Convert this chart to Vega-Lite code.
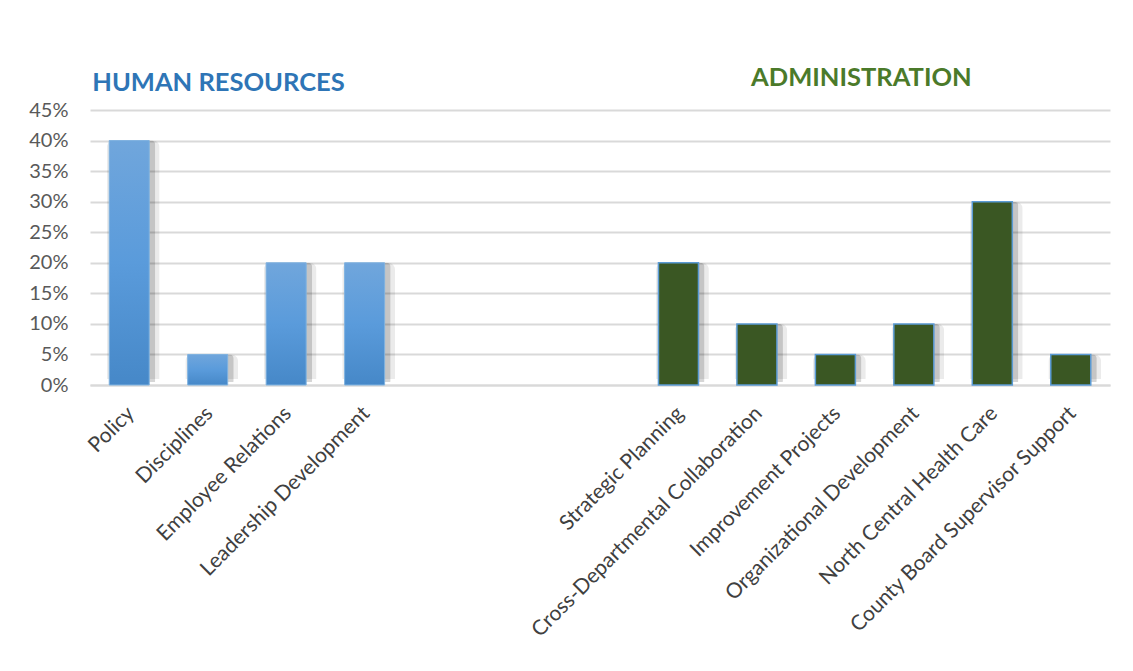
{
  "$schema": "https://vega.github.io/schema/vega-lite/v6.json",
  "width": 1020,
  "height": 275,
  "autosize": "none",
  "padding": {"left": 90, "right": 23, "top": 110, "bottom": 286},
  "background": "white",
  "config": {
    "view": {"stroke": null},
    "font": "Lato"
  },
  "datasets": {
    "bars": [
      {"cat": "Policy", "value": 0.40, "group": "HR"},
      {"cat": "Disciplines", "value": 0.05, "group": "HR"},
      {"cat": "Employee Relations", "value": 0.20, "group": "HR"},
      {"cat": "Leadership Development", "value": 0.20, "group": "HR"},
      {"cat": "Strategic Planning", "value": 0.20, "group": "ADMIN"},
      {"cat": "Cross-Departmental Collaboration", "value": 0.10, "group": "ADMIN"},
      {"cat": "Improvement Projects", "value": 0.05, "group": "ADMIN"},
      {"cat": "Organizational Development", "value": 0.10, "group": "ADMIN"},
      {"cat": "North Central Health Care", "value": 0.30, "group": "ADMIN"},
      {"cat": "County Board Supervisor Support", "value": 0.05, "group": "ADMIN"}
    ],
    "titles": [
      {"label": "HUMAN RESOURCES", "cat": "Policy", "value": 0.494, "group": "HR"},
      {"label": "ADMINISTRATION", "cat": "Improvement Projects", "value": 0.502, "group": "ADMIN"}
    ]
  },
  "encoding": {
    "x": {
      "field": "cat",
      "type": "nominal",
      "sort": null,
      "scale": {
        "domain": ["Policy", "Disciplines", "Employee Relations", "Leadership Development", " ", "  ", "   ", "Strategic Planning", "Cross-Departmental Collaboration", "Improvement Projects", "Organizational Development", "North Central Health Care", "County Board Supervisor Support"],
        "paddingInner": 0.49,
        "paddingOuter": 0.245
      },
      "axis": {
        "title": null,
        "labelAngle": -45,
        "labelAlign": "right",
        "labelBaseline": "middle",
        "labelFontSize": 21,
        "labelFont": "Lato",
        "labelColor": "#404040",
        "labelPadding": 25,
        "labelOffset": 2,
        "ticks": false,
        "domain": true,
        "domainColor": "#d9d9d9",
        "domainWidth": 2,
        "grid": false,
        "labelOverlap": false,
        "labelLimit": 500
      }
    },
    "y": {
      "field": "value",
      "type": "quantitative",
      "scale": {"domain": [0, 0.45], "nice": false, "zero": true},
      "axis": {
        "title": null,
        "format": ".0%",
        "values": [0, 0.05, 0.1, 0.15, 0.2, 0.25, 0.3, 0.35, 0.4, 0.45],
        "labelFontSize": 20,
        "labelFont": "Lato",
        "labelColor": "#595959",
        "labelPadding": 22,
        "labelOverlap": false,
        "labelFlush": false,
        "labelBound": false,
        "ticks": false,
        "domain": false,
        "grid": true,
        "gridColor": "#d9d9d9",
        "gridWidth": 2
      }
    }
  },
  "layer": [
    {
      "data": {"name": "bars"},
      "mark": {"type": "bar", "color": "#000000", "opacity": 0.08, "width": {"band": 1.32}, "xOffset": 4, "yOffset": -6, "cornerRadius": 7}
    },
    {
      "data": {"name": "bars"},
      "mark": {"type": "bar", "color": "#000000", "opacity": 0.16, "width": {"band": 1.15}, "xOffset": 3, "yOffset": -3, "cornerRadius": 4}
    },
    {
      "data": {"name": "bars"},
      "transform": [{"filter": "datum.group === 'HR'"}],
      "mark": {
        "type": "bar",
        "stroke": "#7FB2E0",
        "strokeWidth": 1,
        "color": {
          "gradient": "linear",
          "x1": 0, "y1": 0, "x2": 0, "y2": 1,
          "stops": [
            {"offset": 0, "color": "#70A6DC"},
            {"offset": 0.5, "color": "#5A9BDB"},
            {"offset": 1, "color": "#4688C8"}
          ]
        }
      }
    },
    {
      "data": {"name": "bars"},
      "transform": [{"filter": "datum.group === 'ADMIN'"}],
      "mark": {"type": "bar", "color": "#3A5723", "stroke": "#5B9BD5", "strokeWidth": 1.5}
    },
    {
      "data": {"name": "titles"},
      "transform": [{"filter": "datum.group === 'HR'"}],
      "mark": {"type": "text", "align": "left", "baseline": "middle", "dx": -37, "fontSize": 25.5, "fontWeight": "bold", "font": "Lato", "color": "#2E75B6"},
      "encoding": {
        "text": {"field": "label"}
      }
    },
    {
      "data": {"name": "titles"},
      "transform": [{"filter": "datum.group === 'ADMIN'"}],
      "mark": {"type": "text", "align": "center", "baseline": "middle", "dx": 26, "fontSize": 25.5, "fontWeight": "bold", "font": "Lato", "color": "#4B7A2A"},
      "encoding": {
        "text": {"field": "label"}
      }
    }
  ]
}
